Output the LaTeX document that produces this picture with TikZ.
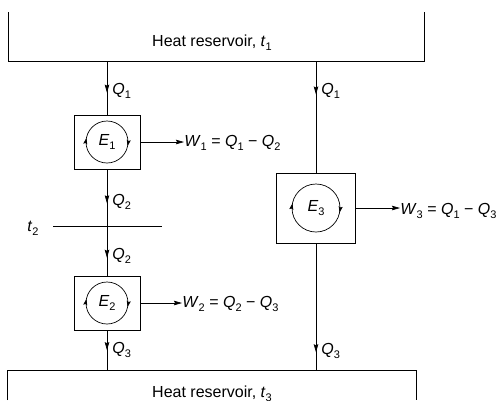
\documentclass[tikz,border=0pt]{standalone}
\usepackage{fontspec}
\setmainfont{Liberation Sans}
\usetikzlibrary{arrows.meta, decorations.markings, positioning}

\newcommand{\thsym}[2]{\textit{#1}\raisebox{-0.45ex}{\fontsize{11}{11}\selectfont #2}}

\tikzset{
  engine/.style={draw, minimum width=66pt, minimum height=54pt, inner sep=0pt},
  midarrow/.style={decoration={markings,
      mark=at position #1 with {\arrow{Stealth[length=8pt, width=4.5pt, inset=1pt]}}},
    postaction={decorate}},
  cycarrows/.style={decoration={markings,
      mark=at position 0.03 with {\arrow{Stealth[length=6pt, width=4pt, inset=1pt]}},
      mark=at position 0.53 with {\arrow{Stealth[length=6pt, width=4pt, inset=1pt]}}},
    postaction={decorate}},
  qlabel/.style={right, xshift=4pt, inner sep=1pt},
  wlabel/.style={right, inner sep=0pt},
}

\begin{document}
\begin{tikzpicture}[x=1pt, y=-1pt, font=\fontsize{16}{19}\selectfont, line width=0.7pt]
\useasboundingbox (0,0) rectangle (503,400);

% Heat reservoirs
\draw (8,12) -- (8,61) -- (424,61) -- (424,12);
\node (res1) at (212,43) {Heat reservoir, \thsym{t}{1}};
\draw (7,400) -- (7,370) -- (416,370) -- (416,400);
\node (res3) at (212,394) {Heat reservoir, \thsym{t}{3}};

\coordinate (top1) at (107,61);
\coordinate (top3) at (316,61);
\coordinate (bot1) at (107,370);
\coordinate (bot3) at (316,370);

% Intermediate level t2
\coordinate (t2a) at (53,226);
\coordinate (t2b) at (162,226);
\coordinate (t2c) at (107,226);
\draw (t2a) -- (t2b);
\node (t2) at (33,228) {\thsym{t}{2}};

% Engines
\node[engine] (e1) at (107,142) {\thsym{E}{1}};
\node[engine] (e2) at (107,303) {\thsym{E}{2}};
\node[engine, minimum width=79pt, minimum height=70pt] (e3) at (316,208) {\thsym{E}{3}};
\draw[cycarrows] (e1.center) ++(180:21) arc[start angle=180, end angle=540, radius=21];
\draw[cycarrows] (e2.center) ++(180:21) arc[start angle=180, end angle=540, radius=21];
\draw[cycarrows] (e3.center) ++(180:24) arc[start angle=180, end angle=540, radius=24];

% Heat flows
\draw[midarrow=0.59] (top1) -- node[qlabel, pos=0.55] {\thsym{Q}{1}} (e1.north);
\draw[midarrow=0.6] (e1.south) -- node[qlabel, pos=0.57] {\thsym{Q}{2}} (t2c);
\draw[midarrow=0.64] (t2c) -- node[qlabel, pos=0.6] {\thsym{Q}{2}} (e2.north);
\draw[midarrow=0.5] (e2.south) -- node[qlabel, pos=0.5] {\thsym{Q}{3}} (bot1);
\draw[midarrow=0.3] (top3) -- node[qlabel, pos=0.27] {\thsym{Q}{1}} (e3.north);
\draw[midarrow=0.86] (e3.south) -- node[qlabel, pos=0.85] {\thsym{Q}{3}} (bot3);

% Work outputs
\node[wlabel] (w1) at (184,143) {\thsym{W}{1} = \thsym{Q}{1} − \thsym{Q}{2}};
\node[wlabel] (w2) at (182,304) {\thsym{W}{2} = \thsym{Q}{2} − \thsym{Q}{3}};
\node[wlabel] (w3) at (400,211) {\thsym{W}{3} = \thsym{Q}{1} − \thsym{Q}{3}};
\draw[-{Stealth[length=8pt, width=4.5pt, inset=1pt]}] (e1.east) -- (e1.east -| w1.west);
\draw[-{Stealth[length=8pt, width=4.5pt, inset=1pt]}] (e2.east) -- (e2.east -| w2.west);
\draw[-{Stealth[length=8pt, width=4.5pt, inset=1pt]}] (e3.east) -- (e3.east -| w3.west);
\end{tikzpicture}
\end{document}
